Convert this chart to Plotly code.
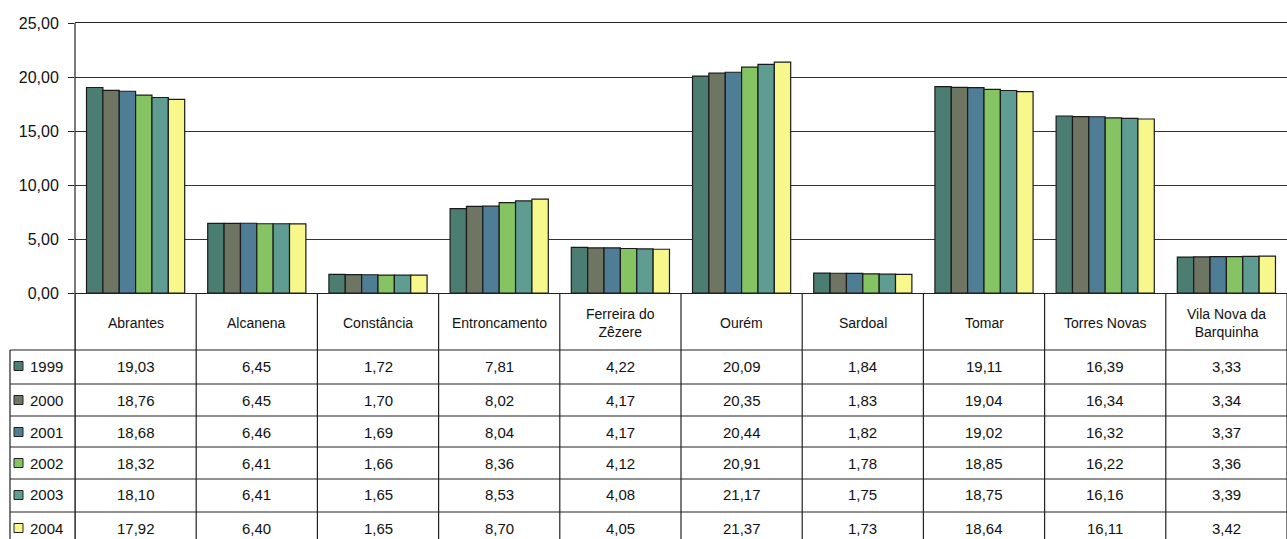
import plotly.graph_objects as go

concelhos = ["Abrantes", "Alcanena", "Constância", "Entroncamento", "Ferreira do<br>Zêzere",
             "Ourém", "Sardoal", "Tomar", "Torres Novas", "Vila Nova da<br>Barquinha"]
anos = ["1999", "2000", "2001", "2002", "2003", "2004"]

v1999 = [19.03, 6.45, 1.72, 7.81, 4.22, 20.09, 1.84, 19.11, 16.39, 3.33]
v2000 = [18.76, 6.45, 1.70, 8.02, 4.17, 20.35, 1.83, 19.04, 16.34, 3.34]
v2001 = [18.68, 6.46, 1.69, 8.04, 4.17, 20.44, 1.82, 19.02, 16.32, 3.37]
v2002 = [18.32, 6.41, 1.66, 8.36, 4.12, 20.91, 1.78, 18.85, 16.22, 3.36]
v2003 = [18.10, 6.41, 1.65, 8.53, 4.08, 21.17, 1.75, 18.75, 16.16, 3.39]
v2004 = [17.92, 6.40, 1.65, 8.70, 4.05, 21.37, 1.73, 18.64, 16.11, 3.42]

series = [v1999, v2000, v2001, v2002, v2003, v2004]
cores = ["#4c7d72", "#6e7563", "#4f7d96", "#86c463", "#5f9c92", "#f7f78c"]

W, H = 1287, 539
L, T, B = 75, 23, 293          # plot area pixels
FONT = "Liberation Sans, Arial, sans-serif"


def py(p):  # pixel row -> paper y
    return (B - p) / (B - T)


def px(p):  # pixel column -> paper x
    return (p - L) / (W - L)


fig = go.Figure()
for ano, vals, cor in zip(anos, series, cores):
    fig.add_trace(go.Bar(name=ano, x=concelhos, y=vals, marker_color=cor,
                         marker_line_color="#1a1a1a", marker_line_width=1.2))

shapes = []
annotations = []

# table geometry (pixels)
header_bot = 350
row_lines = [350, 384, 416, 447, 479, 512]
row_h = 32

# vertical separators between category columns
for i in range(len(concelhos) + 1):
    shapes.append(dict(type="line", xref="x", yref="paper", x0=i - 0.5, x1=i - 0.5,
                       y0=py(B), y1=py(H), line=dict(color="#222", width=1.2)))
# left edge of the whole table
shapes.append(dict(type="line", xref="paper", yref="paper", x0=px(10), x1=px(10),
                   y0=py(header_bot), y1=py(H), line=dict(color="#222", width=1.2)))
# horizontal row lines
for r in row_lines:
    shapes.append(dict(type="line", xref="paper", yref="paper", x0=px(10), x1=1,
                       y0=py(r), y1=py(r), line=dict(color="#222", width=1.2)))
# y axis line extended through the table
shapes.append(dict(type="line", xref="paper", yref="paper", x0=0, x1=0,
                   y0=1, y1=py(H), line=dict(color="#222", width=1.2)))

# header labels
for c in concelhos:
    annotations.append(dict(x=c, xref="x", y=py((B + header_bot) / 2 + 1), yref="paper",
                            xanchor="center", yanchor="middle",
                            text=c, showarrow=False, align="center",
                            font=dict(family=FONT, size=14, color="#111")))

# data rows with legend keys
for j, (ano, vals, cor) in enumerate(zip(anos, series, cores)):
    yc = row_lines[j] + row_h / 2
    shapes.append(dict(type="rect", xref="paper", yref="paper",
                       x0=px(14), x1=px(23), y0=py(yc - 4.5), y1=py(yc + 4.5),
                       fillcolor=cor, line=dict(color="#222", width=1)))
    annotations.append(dict(x=px(28), xref="paper", y=py(yc), yref="paper", text=ano,
                            showarrow=False, xanchor="left", yanchor="middle",
                            font=dict(family=FONT, size=15, color="#111")))
    for c, v in zip(concelhos, vals):
        annotations.append(dict(x=c, xref="x", y=py(yc), yref="paper",
                                xanchor="center", yanchor="middle",
                                text=f"{v:.2f}".replace(".", ","), showarrow=False,
                                font=dict(family=FONT, size=15, color="#111")))

fig.update_layout(
    width=W, height=H,
    margin=dict(l=L, r=0, t=T, b=H - B),
    plot_bgcolor="white", paper_bgcolor="white",
    barmode="group", bargap=0.19, bargroupgap=0,
    showlegend=False,
    separators=",.",
    font=dict(family=FONT, size=14, color="#111"),
    xaxis=dict(showticklabels=False, ticks="", showgrid=False, showline=True,
               linecolor="#222", linewidth=1.2, range=[-0.5, 9.5], mirror=True),
    yaxis=dict(range=[0, 25], dtick=5, tickformat=".2f", showgrid=True,
               gridcolor="#333", gridwidth=1, showline=False, ticks="outside",
               ticklen=6, tickcolor="#222", zeroline=False, ticklabelstandoff=6,
               automargin=False,
               tickfont=dict(family=FONT, size=16, color="#111")),
    shapes=shapes,
    annotations=annotations,
)

fig.write_html("out.html", config={"displayModeBar": False},
               post_script="document.body.style.margin='0';document.body.style.overflow='hidden';")
